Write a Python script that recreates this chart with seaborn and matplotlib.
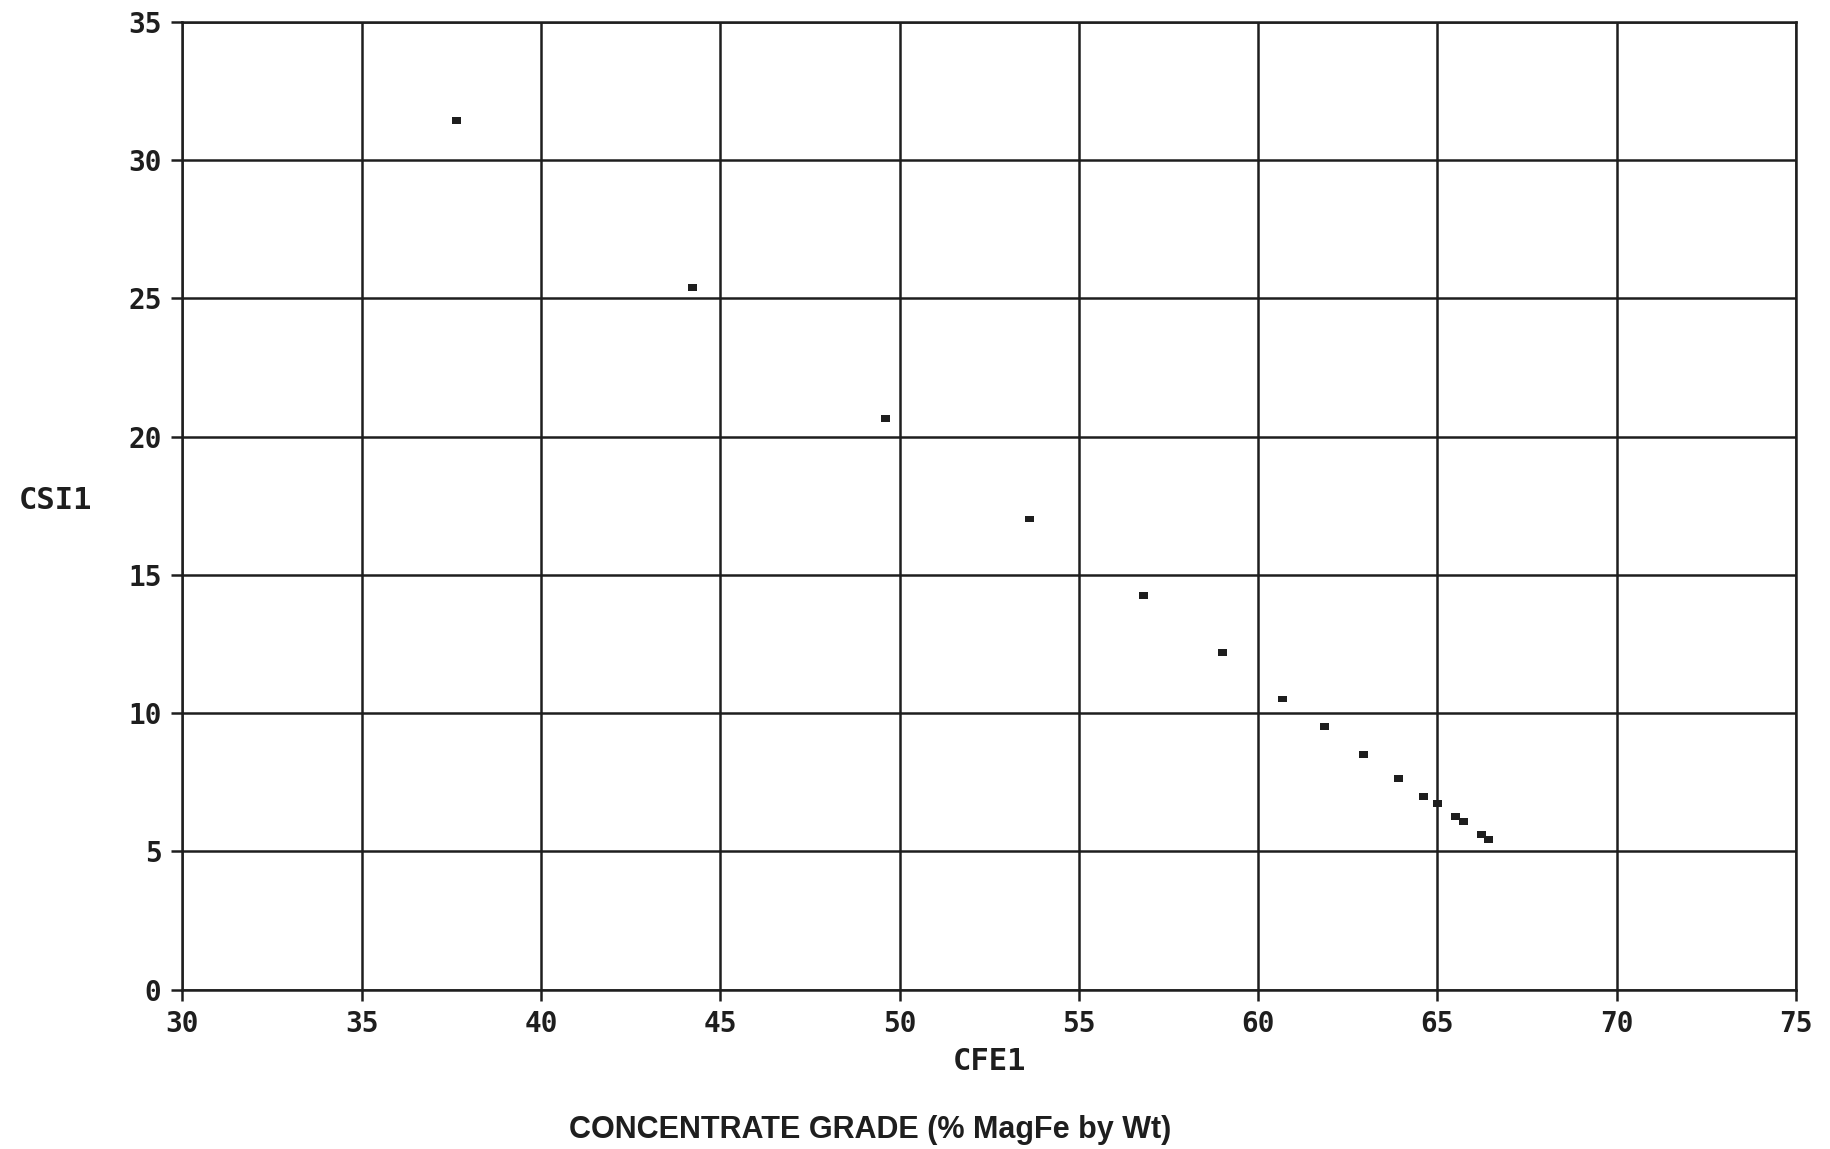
import matplotlib
matplotlib.use("Agg")
import matplotlib.pyplot as plt
import seaborn as sns
import pandas as pd

# Concentrate Fe grade vs. concentrate silica
cfe1 = [37.65, 44.23, 49.61, 53.63, 56.80, 59.00, 60.69, 61.86, 62.95,
        63.91, 64.62, 64.99, 65.50, 65.72, 66.22, 66.43]
csi1 = [31.44, 25.40, 20.67, 17.02, 14.24, 12.20, 10.51, 9.50, 8.49,
        7.64, 6.99, 6.72, 6.27, 6.09, 5.61, 5.43]

x_ticks = [30, 35, 40, 45, 50, 55, 60, 65, 70, 75]
y_ticks = [0, 5, 10, 15, 20, 25, 30, 35]

ink = "#1e1e1e"

sns.set_theme(style="white")
plt.rcParams["font.family"] = ["DejaVu Sans Mono", "DejaVu Sans"]

fig = plt.figure(figsize=(18.3, 11.49), dpi=100)
ax = fig.add_axes([0.0997, 0.1388, 0.8817, 0.8421])

df = pd.DataFrame({"CFE1": cfe1, "CSI1": csi1})
rect = [(-1.3, -1.0), (1.3, -1.0), (1.3, 1.0), (-1.3, 1.0), (-1.3, -1.0)]
sns.scatterplot(data=df, x="CFE1", y="CSI1", marker=rect, s=42,
                color=ink, edgecolor="none", linewidth=0, ax=ax, zorder=3)

ax.set_xlim(30, 75)
ax.set_ylim(0, 35)
ax.set_xticks(x_ticks)
ax.set_yticks(y_ticks)
ax.set_xticklabels([str(v) for v in x_ticks])
ax.set_yticklabels([str(v) for v in y_ticks])

ax.grid(True, color=ink, linewidth=1.8)
ax.set_axisbelow(True)
for sp in ax.spines.values():
    sp.set_visible(True)
    sp.set_color(ink)
    sp.set_linewidth(1.8)

ax.tick_params(axis="both", direction="out", length=8, width=1.8,
               color=ink, labelcolor=ink, labelsize=20, pad=7,
               left=True, bottom=True)
for lab in ax.get_xticklabels() + ax.get_yticklabels():
    lab.set_fontweight("bold")

ax.set_xlabel("CFE1", fontsize=22, fontweight="bold", color=ink, va="center")
ax.xaxis.set_label_coords(0.5, -0.074)
ax.set_ylabel("CSI1", fontsize=22, fontweight="bold", color=ink,
              rotation=0, ha="center", va="center")
ax.yaxis.set_label_coords(-0.0784, 0.505)

fig.text(0.4755, 0.0165, "CONCENTRATE GRADE (% MagFe by Wt)",
         family=["Liberation Sans", "DejaVu Sans"], fontsize=22,
         fontweight="bold", color=ink, ha="center", va="center")

fig.savefig("out.png", dpi=100, facecolor="white")
